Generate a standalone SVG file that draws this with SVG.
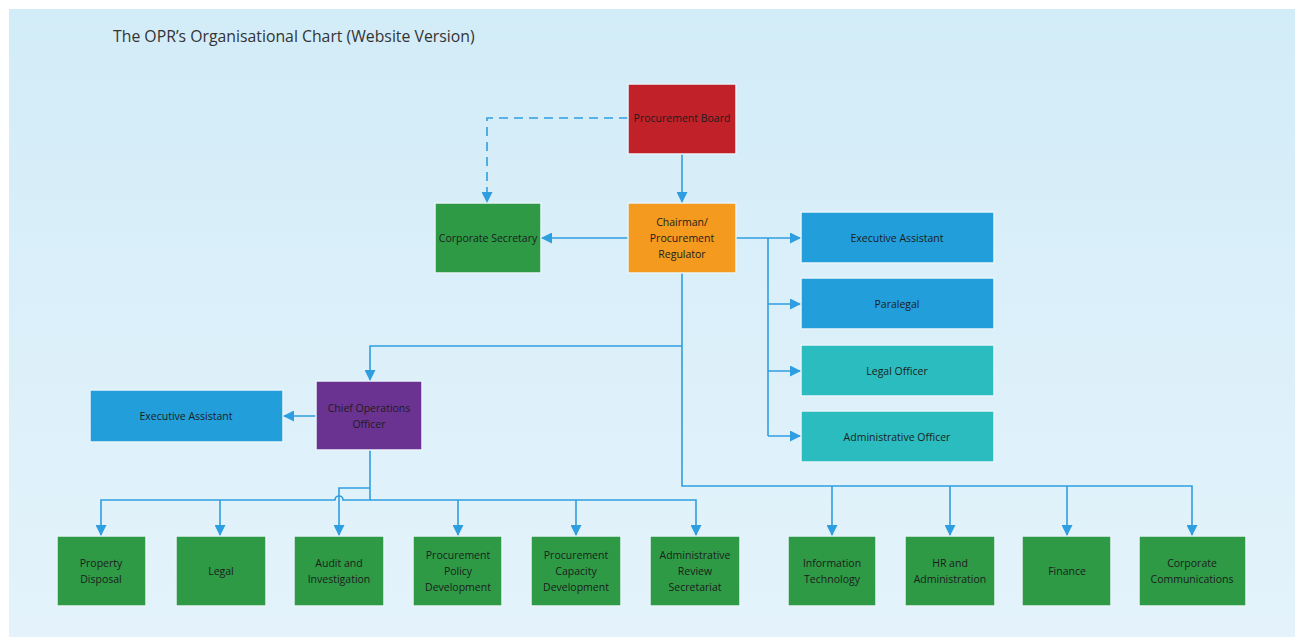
<svg xmlns="http://www.w3.org/2000/svg" width="1298" height="642" viewBox="0 0 1298 642">
<defs>
<linearGradient id="bg" x1="0" y1="0" x2="0" y2="1">
<stop offset="0" stop-color="#d2ecf8"/>
<stop offset="1" stop-color="#e4f3fb"/>
</linearGradient>
<marker id="ah" viewBox="0 0 10 10" refX="10" refY="5" markerWidth="11" markerHeight="11" markerUnits="userSpaceOnUse" orient="auto">
<path d="M0,0 L10,5 L0,10 z" fill="#2f9ee0"/>
</marker>
<style>
.b{stroke:#e8f4fa;stroke-width:1.5}
.t{font-family:"Open Sans","Liberation Sans",sans-serif;font-size:10.5px;fill:#1c1c1c;text-anchor:middle}
.c{fill:none;stroke:#2f9ee0;stroke-width:1.6}
.g{fill:#2e9a46}
</style>
</defs>
<rect width="1298" height="642" fill="#ffffff"/>
<rect x="9" y="9" width="1286" height="628" fill="url(#bg)"/>
<text x="113" y="42" style="font-family:'Open Sans','Liberation Sans',sans-serif;font-size:15.8px;fill:#333">The OPR’s Organisational Chart (Website Version)</text>

<g id="connectors">
<path class="c" d="M628,118 H487 V203" stroke-dasharray="9,6" marker-end="url(#ah)"/>
<path class="c" d="M682,154 V203" marker-end="url(#ah)"/>
<path class="c" d="M628,238 H541" marker-end="url(#ah)"/>
<path class="c" d="M736,238 H801" marker-end="url(#ah)"/>
<path class="c" d="M768,238 V436"/>
<path class="c" d="M768,304 H801" marker-end="url(#ah)"/>
<path class="c" d="M768,371 H801" marker-end="url(#ah)"/>
<path class="c" d="M768,436 H801" marker-end="url(#ah)"/>
<path class="c" d="M682,273 V486 H1192 V536" marker-end="url(#ah)"/>
<path class="c" d="M832,486 V536" marker-end="url(#ah)"/>
<path class="c" d="M950,486 V536" marker-end="url(#ah)"/>
<path class="c" d="M1067,486 V536" marker-end="url(#ah)"/>
<path class="c" d="M682,346 H370 V381" marker-end="url(#ah)"/>
<path class="c" d="M316,416 H283" marker-end="url(#ah)"/>
<path class="c" d="M370,450 V500 H343 A4,4 0 0 0 335,500 H101 V536" marker-end="url(#ah)"/>
<path class="c" d="M370,488 H339 V536" marker-end="url(#ah)"/>
<path class="c" d="M220,500 V536" marker-end="url(#ah)"/>
<path class="c" d="M370,500 H696 V536" marker-end="url(#ah)"/>
<path class="c" d="M458,500 V536" marker-end="url(#ah)"/>
<path class="c" d="M576,500 V536" marker-end="url(#ah)"/>
</g>

<g id="procurement-board"><rect class="b" x="628" y="84" width="108" height="70" fill="#c1222a"/><text class="t" x="682" y="122">Procurement Board</text></g>
<g id="corporate-secretary"><rect class="b" x="435" y="203" width="106" height="70" fill="#2e9a46"/><text class="t" x="488" y="242">Corporate Secretary</text></g>
<g id="chairman"><rect class="b" x="628" y="203" width="108" height="70" fill="#f39a1f"/><text class="t" x="682" y="226">Chairman/</text><text class="t" x="682" y="242">Procurement</text><text class="t" x="682" y="258">Regulator</text></g>
<g id="exec-assistant-1"><rect class="b" x="801" y="212" width="193" height="51" fill="#229fda"/><text class="t" x="897" y="242">Executive Assistant</text></g>
<g id="paralegal"><rect class="b" x="801" y="278" width="193" height="51" fill="#229fda"/><text class="t" x="897" y="308">Paralegal</text></g>
<g id="legal-officer"><rect class="b" x="801" y="345" width="193" height="51" fill="#2bbcbf"/><text class="t" x="897" y="375">Legal Officer</text></g>
<g id="administrative-officer"><rect class="b" x="801" y="411" width="193" height="51" fill="#2bbcbf"/><text class="t" x="897" y="441">Administrative Officer</text></g>
<g id="coo"><rect class="b" x="316" y="381" width="106" height="69" fill="#6b3391"/><text class="t" x="369" y="412">Chief Operations</text><text class="t" x="369" y="428">Officer</text></g>
<g id="exec-assistant-2"><rect class="b" x="90" y="390" width="193" height="52" fill="#229fda"/><text class="t" x="186" y="420">Executive Assistant</text></g>

<g id="property-disposal"><rect class="b g" x="57" y="536" width="89" height="70"/><text class="t" x="101" y="567">Property</text><text class="t" x="101" y="583">Disposal</text></g>
<g id="legal"><rect class="b g" x="176" y="536" width="90" height="70"/><text class="t" x="221" y="575">Legal</text></g>
<g id="audit"><rect class="b g" x="294" y="536" width="90" height="70"/><text class="t" x="339" y="567">Audit and</text><text class="t" x="339" y="583">Investigation</text></g>
<g id="policy"><rect class="b g" x="413" y="536" width="89" height="70"/><text class="t" x="458" y="559">Procurement</text><text class="t" x="458" y="575">Policy</text><text class="t" x="458" y="591">Development</text></g>
<g id="capacity"><rect class="b g" x="531" y="536" width="90" height="70"/><text class="t" x="576" y="559">Procurement</text><text class="t" x="576" y="575">Capacity</text><text class="t" x="576" y="591">Development</text></g>
<g id="review"><rect class="b g" x="650" y="536" width="90" height="70"/><text class="t" x="695" y="559">Administrative</text><text class="t" x="695" y="575">Review</text><text class="t" x="695" y="591">Secretariat</text></g>
<g id="it"><rect class="b g" x="788" y="536" width="88" height="70"/><text class="t" x="832" y="567">Information</text><text class="t" x="832" y="583">Technology</text></g>
<g id="hr"><rect class="b g" x="905" y="536" width="90" height="70"/><text class="t" x="950" y="567">HR and</text><text class="t" x="950" y="583">Administration</text></g>
<g id="finance"><rect class="b g" x="1022" y="536" width="89" height="70"/><text class="t" x="1067" y="575">Finance</text></g>
<g id="communications"><rect class="b g" x="1139" y="536" width="107" height="70"/><text class="t" x="1192" y="567">Corporate</text><text class="t" x="1192" y="583">Communications</text></g>
</svg>
